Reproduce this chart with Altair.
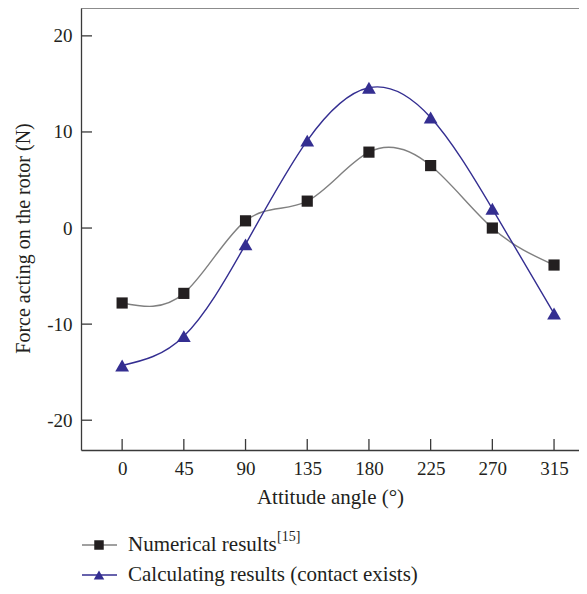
import altair as alt
import pandas as pd

# ---- data ----
angles = [0, 45, 90, 135, 180, 225, 270, 315]
numerical = [-7.8, -6.8, 0.75, 2.8, 7.9, 6.5, 0.0, -3.85]
calculating = [-14.3, -11.25, -1.7, 9.1, 14.6, 11.5, 2.0, -8.9]
x_ticks = [0, 45, 90, 135, 180, 225, 270, 315]
y_ticks = [-20, -10, 0, 10, 20]
legend_labels = ["Numerical results", "Calculating results (contact exists)"]
legend_sup = "[15]"
x_title = "Attitude angle (°)"
y_title = "Force acting on the rotor (N)"

# ---- style ----
W, H = 498, 442
FONT = "Liberation Serif"
AX = "#3a3a3a"
TXT = "#231f20"
GRAY_LINE = "#808080"
BLACK = "#231f20"
BLUE = "#342e91"

xscale = alt.Scale(domain=[-30, 333.2], nice=False, zero=False)
yscale = alt.Scale(domain=[-23.1, 22.9], nice=False, zero=False)

x_axis = alt.Axis(values=x_ticks, title=x_title, ticks=False, grid=False,
                  labelPadding=9, titleY=47, titleBaseline="middle",
                  labelExpr="'' + datum.value")
y_axis = alt.Axis(values=y_ticks, title=y_title, ticks=False, grid=False,
                  labelPadding=9, titleX=-58, titleY=230, titleBaseline="middle",
                  titleFontSize=20, labelExpr="'' + datum.value")


def X(field):
    return alt.X(field, type="quantitative", scale=xscale, axis=x_axis)


def Y(field):
    return alt.Y(field, type="quantitative", scale=yscale, axis=y_axis)


df = pd.DataFrame({"angle": angles, "numerical": numerical, "calculating": calculating})
one = pd.DataFrame({"a": [0]})

num_line = alt.Chart(df).mark_line(interpolate="natural", color=GRAY_LINE, strokeWidth=1.4).encode(
    x=X("angle"), y=Y("numerical"))
num_pts = alt.Chart(df).mark_point(shape="square", filled=True, size=125, color=BLACK, opacity=1).encode(
    x=X("angle"), y=Y("numerical"))
calc_line = alt.Chart(df).mark_line(interpolate="natural", color=BLUE, strokeWidth=1.4).encode(
    x=X("angle"), y=Y("calculating"))
calc_pts = alt.Chart(df).mark_point(shape="triangle-up", filled=True, size=190, color=BLUE, opacity=1).encode(
    x=X("angle"), y=Y("calculating"))

# inward ticks
xt = alt.Chart(pd.DataFrame({"v": x_ticks})).mark_rule(color=AX, strokeWidth=1.3).encode(
    x=X("v"), y=alt.value(H), y2=alt.value(H - 11))
yt = alt.Chart(pd.DataFrame({"v": y_ticks})).mark_rule(color=AX, strokeWidth=1.3).encode(
    y=Y("v"), x=alt.value(0), x2=alt.value(11))

# top frame line
top = alt.Chart(one).mark_rule(color="#666666", strokeWidth=1.6).encode(
    x=alt.value(0), x2=alt.value(W), y=alt.value(0))

# manual legend
r1, r2 = 537, 567
leg = []
leg.append(alt.Chart(one).mark_rule(color=GRAY_LINE, strokeWidth=1.4).encode(
    x=alt.value(1), x2=alt.value(36), y=alt.value(r1)))
leg.append(alt.Chart(one).mark_point(shape="square", filled=True, size=90, color=BLACK, opacity=1).encode(
    x=alt.value(18), y=alt.value(r1)))
leg.append(alt.Chart(one).mark_text(align="left", baseline="middle", font=FONT, fontSize=21, color=TXT).encode(
    x=alt.value(47), y=alt.value(r1), text=alt.value(legend_labels[0])))
leg.append(alt.Chart(one).mark_text(align="left", baseline="middle", font=FONT, fontSize=14, color=TXT).encode(
    x=alt.value(196), y=alt.value(r1 - 8), text=alt.value(legend_sup)))
leg.append(alt.Chart(one).mark_rule(color=BLUE, strokeWidth=1.4).encode(
    x=alt.value(1), x2=alt.value(36), y=alt.value(r2)))
leg.append(alt.Chart(one).mark_point(shape="triangle-up", filled=True, size=110, color=BLUE, opacity=1).encode(
    x=alt.value(18), y=alt.value(r2)))
leg.append(alt.Chart(one).mark_text(align="left", baseline="middle", font=FONT, fontSize=21, color=TXT).encode(
    x=alt.value(47), y=alt.value(r2), text=alt.value(legend_labels[1])))

chart = alt.layer(top, xt, yt, num_line, calc_line, num_pts, calc_pts, *leg).properties(
    width=W, height=H,
    autosize=alt.AutoSizeParams(type="none"),
    padding={"left": 73, "top": 0, "right": 0, "bottom": 136},
).configure_view(stroke=None).configure_axis(
    labelFont=FONT, labelFontSize=19, labelColor=TXT,
    titleFont=FONT, titleFontSize=21, titleFontWeight="normal", titleColor=TXT,
    domainColor=AX, domainWidth=1.3,
)

chart.save("out.html", embed_options={"renderer": "svg", "actions": False})
